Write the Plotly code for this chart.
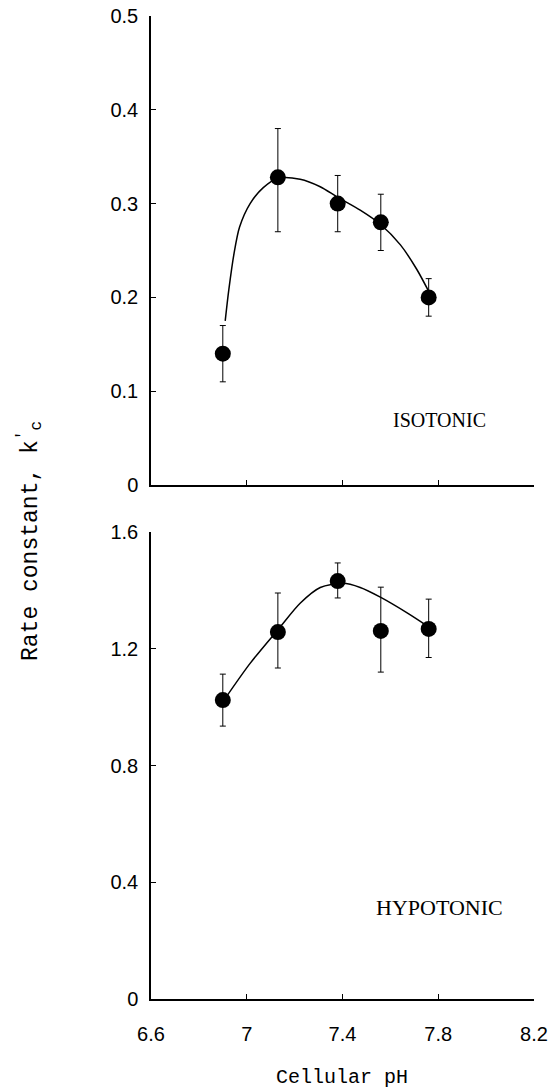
import plotly.graph_objects as go

# ---- data ----
ph = [6.90, 7.13, 7.38, 7.56, 7.76]

iso_k = [0.14, 0.328, 0.30, 0.28, 0.20]
iso_err_plus = [0.03, 0.052, 0.03, 0.03, 0.02]
iso_err_minus = [0.03, 0.058, 0.03, 0.03, 0.02]

iso_curve_ph = [6.91, 6.925, 6.947, 6.97, 7.014, 7.069, 7.131, 7.223, 7.307, 7.378, 7.474, 7.558, 7.642, 7.71, 7.763]
iso_curve_k = [0.175, 0.208, 0.247, 0.275, 0.300, 0.317, 0.327, 0.326, 0.318, 0.307, 0.293, 0.278, 0.256, 0.230, 0.205]

hypo_k = [1.024, 1.257, 1.432, 1.261, 1.268]
hypo_err_plus = [0.089, 0.134, 0.062, 0.150, 0.102]
hypo_err_minus = [0.089, 0.123, 0.058, 0.141, 0.098]

hypo_curve_ph = [6.91, 7.014, 7.135, 7.223, 7.307, 7.40, 7.474, 7.56, 7.67, 7.76]
hypo_curve_k = [1.03, 1.15, 1.27, 1.356, 1.41, 1.424, 1.41, 1.376, 1.323, 1.275]

x_ticks = [6.6, 7.0, 7.4, 7.8, 8.2]
x_ticktext = ["6.6", "7", "7.4", "7.8", "8.2"]

W, H = 555, 1089

fig = go.Figure()

err_style = dict(color="black", thickness=1, width=3)
marker_style = dict(color="black", size=16)
curve_style = dict(color="black", width=1.5, shape="spline", smoothing=0.8)

# top panel (isotonic)
fig.add_trace(go.Scatter(x=iso_curve_ph, y=iso_curve_k, mode="lines", line=curve_style,
                         xaxis="x", yaxis="y", showlegend=False, hoverinfo="skip"))
fig.add_trace(go.Scatter(x=ph, y=iso_k, mode="markers", marker=marker_style,
                         error_y=dict(type="data", symmetric=False, array=iso_err_plus, arrayminus=iso_err_minus, **err_style),
                         xaxis="x", yaxis="y", showlegend=False))

# bottom panel (hypotonic)
fig.add_trace(go.Scatter(x=hypo_curve_ph, y=hypo_curve_k, mode="lines", line=curve_style,
                         xaxis="x2", yaxis="y2", showlegend=False, hoverinfo="skip"))
fig.add_trace(go.Scatter(x=ph, y=hypo_k, mode="markers", marker=marker_style,
                         error_y=dict(type="data", symmetric=False, array=hypo_err_plus, arrayminus=hypo_err_minus, **err_style),
                         xaxis="x2", yaxis="y2", showlegend=False))

tick_font = dict(family="Liberation Sans, Arial, sans-serif", size=20, color="black")
axis_common = dict(showline=True, linecolor="black", linewidth=1.5, ticks="inside", ticklen=5,
                   tickcolor="black", tickwidth=1, showgrid=False, zeroline=False, mirror=False,
                   tickfont=tick_font, automargin=False)

xdom = [151 / W, 534 / W]
fig.update_layout(
    width=W, height=H,
    template="none",
    margin=dict(l=0, r=0, t=0, b=0),
    paper_bgcolor="white", plot_bgcolor="white",
    xaxis=dict(domain=xdom, range=[6.6, 8.2], tickvals=x_ticks, ticktext=x_ticktext,
               showticklabels=False, anchor="y", **axis_common),
    yaxis=dict(domain=[1 - 485 / H, 1 - 16 / H], range=[0, 0.5], dtick=0.1, tick0=0,
               anchor="x", ticklabelstandoff=7, **axis_common),
    xaxis2=dict(domain=xdom, range=[6.6, 8.2], tickvals=x_ticks, ticktext=x_ticktext,
                anchor="y2", ticklabelstandoff=16, **axis_common),
    yaxis2=dict(domain=[1 - 999 / H, 1 - 532 / H], range=[0, 1.6], dtick=0.4, tick0=0,
                anchor="x2", ticklabelstandoff=7, **axis_common),
    annotations=[
        dict(text="ISOTONIC", x=7.807, y=0.069, xref="x", yref="y", showarrow=False,
             xanchor="center", yanchor="middle",
             font=dict(family="Liberation Serif, Times New Roman, serif", size=20, color="black")),
        dict(text="HYPOTONIC", x=7.807, y=0.312, xref="x2", yref="y2", showarrow=False,
             xanchor="center", yanchor="middle",
             font=dict(family="Liberation Serif, Times New Roman, serif", size=22, color="black")),
        dict(text="Cellular pH", x=342 / W, y=1 - 1077 / H, xref="paper", yref="paper", showarrow=False,
             xanchor="center", yanchor="middle",
             font=dict(family="Liberation Mono, Courier New, monospace", size=20, color="black")),
        dict(text="Rate constant, k<sup>'</sup><sub>c</sub>", x=30 / W, y=1 - 541 / H, xref="paper", yref="paper",
             showarrow=False, textangle=-90, xanchor="center", yanchor="middle",
             font=dict(family="Liberation Mono, Courier New, monospace", size=23, color="black")),
    ],
)

fig.write_html("out.html")
